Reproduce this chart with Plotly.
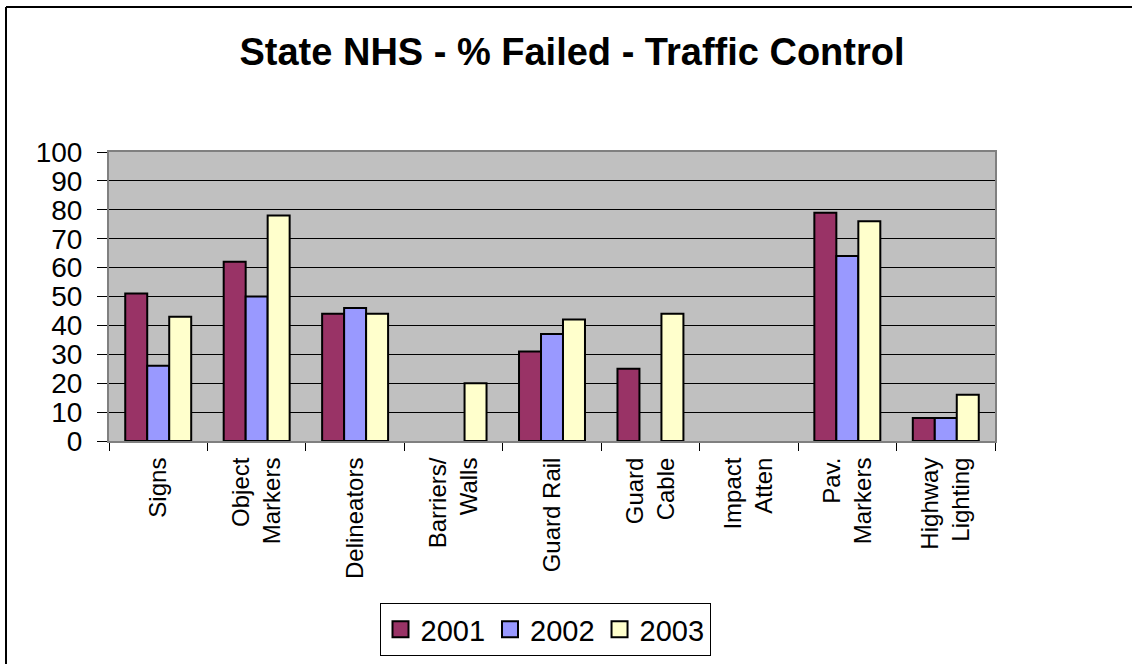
import plotly.graph_objects as go

categories = [
    "Signs", "Object<br>Markers", "Delineators", "Barriers/<br>Walls",
    "Guard Rail", "Guard<br>Cable", "Impact<br>Atten", "Pav.<br>Markers",
    "Highway<br>Lighting",
]
years = ["2001", "2002", "2003"]
pct_2001 = [51, 62, 44, 0, 31, 25, 0, 79, 8]
pct_2002 = [26, 50, 46, 0, 37, 0, 0, 64, 8]
pct_2003 = [43, 78, 44, 20, 42, 44, 0, 76, 16]
y_ticks = list(range(0, 101, 10))

colors = ["#993366", "#9999FF", "#FFFFCC"]
series = [pct_2001, pct_2002, pct_2003]

W, H = 1132, 664
ML, MR, MT, MB = 109, 137, 152, 223
PW, PH = W - ML - MR, H - MT - MB

font = "Liberation Sans, Arial, sans-serif"


def px_x(p):
    return (p - ML) / PW


def px_y(p):
    return (H - MB - p) / PH


fig = go.Figure()
for name, vals, col in zip(years, series, colors):
    # zero entries leave an empty slot rather than a flat outlined bar
    shown = [v if v else None for v in vals]
    fig.add_trace(go.Bar(
        name=name, x=categories, y=shown, showlegend=False,
        marker=dict(color=col, line=dict(color="black", width=2)),
    ))

# legend swatches: square keys for each year
for name, col in zip(years, colors):
    fig.add_trace(go.Scatter(
        name=name, x=[None], y=[None], mode="markers",
        marker=dict(symbol="square", size=16, color=col,
                    line=dict(color="black", width=2)),
    ))

fig.update_layout(
    width=W, height=H,
    margin=dict(l=ML, r=MR, t=MT, b=MB, pad=0, autoexpand=False),
    paper_bgcolor="white",
    plot_bgcolor="#C0C0C0",
    barmode="group",
    bargap=0.33,
    bargroupgap=0,
    font=dict(family=font, color="black"),
    title=dict(
        text="<b>State NHS - % Failed - Traffic Control</b>",
        x=572 / W, xanchor="center",
        y=1 - 52 / H, yanchor="middle",
        font=dict(size=38, family=font, color="black"),
    ),
    xaxis=dict(
        type="category",
        automargin=False,
        tickson="boundaries",
        ticks="outside", ticklen=8, tickcolor="black", tickwidth=1,
        tickangle=-90,
        tickfont=dict(size=24, family=font),
        ticklabelstandoff=5,
        showline=True, linecolor="#808080", linewidth=2,
        mirror=True,
        showgrid=False,
    ),
    yaxis=dict(
        range=[0, 100],
        automargin=False,
        tickvals=y_ticks,
        ticks="outside", ticklen=10, tickcolor="black", tickwidth=1,
        tickfont=dict(size=28, family=font),
        ticklabelstandoff=9,
        showline=True, linecolor="#808080", linewidth=2,
        mirror=True,
        showgrid=True, gridcolor="black", gridwidth=1,
        zeroline=False,
    ),
    legend=dict(
        orientation="h",
        x=px_x(545), xanchor="center",
        y=px_y(603), yanchor="top",
        bordercolor="black", borderwidth=1,
        bgcolor="white",
        font=dict(size=29, family=font),
        itemwidth=30,
        traceorder="normal",
    ),
    showlegend=True,
)

# outer chart frame
fig.add_shape(type="line", xref="paper", yref="paper",
              x0=px_x(6), x1=px_x(W + 5), y0=px_y(7), y1=px_y(7),
              line=dict(color="black", width=2))
fig.add_shape(type="line", xref="paper", yref="paper",
              x0=px_x(6), x1=px_x(6), y0=px_y(7), y1=px_y(H + 5),
              line=dict(color="black", width=2))

fig.write_html("out.html")
